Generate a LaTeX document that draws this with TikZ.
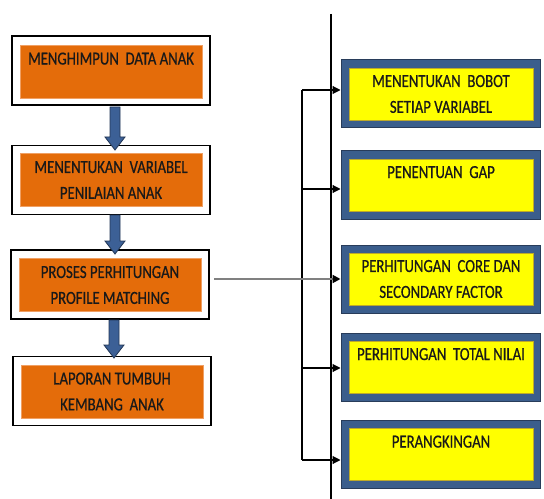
\documentclass[tikz,border=0pt]{standalone}
\usepackage{fontspec}
\setmainfont{Carlito}[FakeStretch=0.8,FakeBold=0.6]
\usetikzlibrary{arrows.meta,calc}
\definecolor{orng}{RGB}{228,108,10}
\definecolor{orngedge}{RGB}{240,160,100}
\definecolor{bblue}{RGB}{59,94,140}
\definecolor{bbluedark}{RGB}{40,60,90}
\definecolor{ylw}{RGB}{255,255,0}
\definecolor{ylwedge}{RGB}{190,170,40}
\definecolor{arrblue}{RGB}{60,96,150}
\definecolor{arrdark}{RGB}{35,55,85}
\definecolor{lgray}{RGB}{128,128,128}
\definecolor{txt}{RGB}{25,25,25}
\newcommand\myblockarrow[3]{%
  \filldraw[fill=arrblue,draw=arrdark,line width=0.8bp]
    (#1-5,#2) -- (#1+5,#2) -- (#1+5,#3-13) -- (#1+10,#3-13) -- (#1,#3)
    -- (#1-10,#3-13) -- (#1-5,#3-13) -- cycle;}
\begin{document}
\begin{tikzpicture}[x=1bp,y=-1bp,
  outerL/.style={draw=black,fill=white,line width=1.5bp,minimum width=198bp,minimum height=69bp,inner sep=0pt},
  innerL/.style={draw=orngedge,fill=orng,line width=0.8bp,minimum width=182bp,minimum height=53bp,inner sep=0pt,align=center,text=txt,font=\fontsize{18.5}{26}\selectfont},
  outerR/.style={draw=bbluedark,fill=bblue,line width=1bp,minimum width=199bp,minimum height=68bp,inner sep=0pt},
  innerR/.style={draw=ylwedge,fill=ylw,line width=0.8bp,minimum width=184bp,minimum height=52bp,inner sep=0pt,align=center,text=txt,font=\fontsize{18.5}{26}\selectfont},
  conn/.style={draw=black,line width=1.1bp,-{Triangle[length=8bp,width=8bp]}},
  gconn/.style={draw=lgray,line width=2.6bp,-{Triangle[length=8bp,width=8bp,fill=black,color=black]}}
]
\useasboundingbox (0,0) rectangle (544,499);
% left boxes
\node[outerL] (L1) at (111,70.5) {};
\node[innerL] (L1i) at (111,71.5) {MENGHIMPUN\ \ DATA ANAK\\\mbox{}};
\node[outerL] (L2) at (111,180) {};
\node[innerL] (L2i) at (111,180) {MENENTUKAN\ \ VARIABEL\\PENILAIAN ANAK};
\node[outerL] (L3) at (110,284.5) {};
\node[innerL] (L3i) at (110,285) {PROSES PERHITUNGAN\\PROFILE MATCHING};
\node[outerL] (L4) at (112,391) {};
\node[innerL] (L4i) at (112,391.5) {LAPORAN TUMBUH\\KEMBANG\ \ ANAK};
% block arrows
\myblockarrow{115}{107}{150}
\myblockarrow{115}{215}{254}
\myblockarrow{114}{320}{358}
% right boxes
\node[outerR] (R1) at (440.5,94) {};
\node[innerR] (R1i) at (441,94) {MENENTUKAN\ \ BOBOT\\SETIAP VARIABEL};
\node[outerR] (R2) at (440.5,185) {};
\node[innerR] (R2i) at (441,185) {PENENTUAN\ \ GAP\\\mbox{}};
\node[outerR] (R3) at (440.5,279) {};
\node[innerR] (R3i) at (441,279) {PERHITUNGAN\ \ CORE DAN\\SECONDARY FACTOR};
\node[outerR] (R4) at (440.5,367) {};
\node[innerR] (R4i) at (441,367) {PERHITUNGAN\ \ TOTAL NILAI\\\mbox{}};
\node[outerR] (R5) at (440.5,454.5) {};
\node[innerR] (R5i) at (441,454.5) {PERANGKINGAN\\\mbox{}};
% lines
\coordinate (vtop) at (331,14);
\coordinate (vbot) at (331,499);
\draw[black,line width=1.1bp] (vtop) -- (vbot);
\coordinate (b1) at (302,90);
\coordinate (b2) at (302,189);
\coordinate (b3) at (302,279);
\coordinate (b4) at (302,368);
\coordinate (b5) at (302,460);
\draw[black,line width=1.1bp] (b1) -- (b5);
\draw[conn] (b1) -- (b1 -| R1.west);
\draw[conn] (b2) -- (b2 -| R2.west);
\draw[conn] (b4) -- (b4 -| R4.west);
\draw[conn] (b5) -- (b5 -| R5.west);
\coordinate (g0) at (214,279);
\draw[gconn] (g0) -- (g0 -| R3.west);
\end{tikzpicture}
\end{document}
